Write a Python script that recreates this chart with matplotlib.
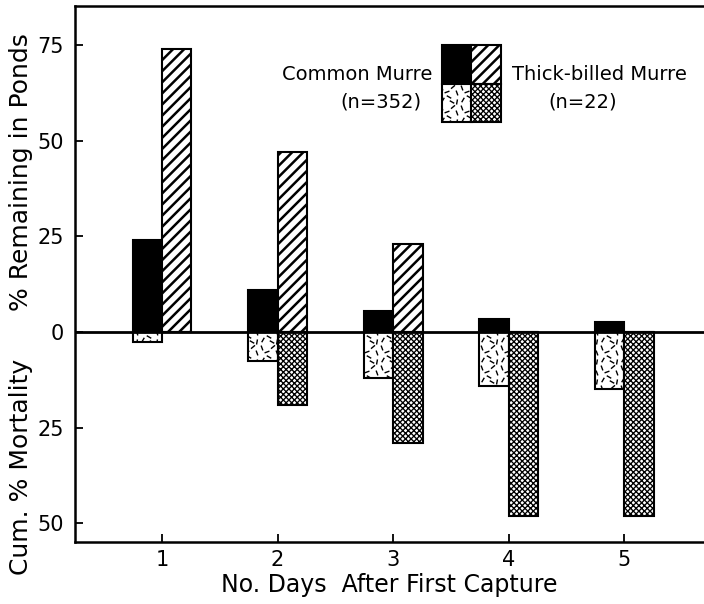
import numpy as np
import matplotlib
matplotlib.use('Agg')
import matplotlib.pyplot as plt
from matplotlib.collections import LineCollection
from matplotlib.patches import Rectangle
from matplotlib.transforms import IdentityTransform

# values (percent)
days = [1, 2, 3, 4, 5]
common_remaining = [24, 11, 5.5, 3.5, 2.5]
thick_remaining = [74, 47, 23, 0, 0]
common_mortality = [2.5, 7.5, 12, 14, 15]
thick_mortality = [0, 19, 29, 48, 48]
ytick_values = [-50, -25, 0, 25, 50, 75]
ytick_labels = ['50', '25', '0', '25', '50', '75']

plt.rcParams['font.family'] = 'DejaVu Sans'
plt.rcParams['hatch.linewidth'] = 1.8

W = 0.255

fig = plt.figure(figsize=(7.04, 6.04), dpi=100)
ax = fig.add_axes([75 / 704, 1 - 542 / 604, 1 - 75 / 704, (542 - 6) / 604])

# small scattered dashes, used as the texture for common murre mortality
tile = [(3, 4, 60), (12, 2, -30), (17, 11, 110), (7, 12, 20),
        (2, 16, -70), (13, 17, 40), (9, 7, 150), (17, 2, 80)]


def dash_fill(patch, z=3):
    segs = []
    for x0 in range(0, 712, 20):
        for y0 in range(0, 612, 20):
            for dx, dy, ang in tile:
                a = np.radians(ang)
                cx, cy = x0 + dx, y0 + dy
                ux, uy = 2.6 * np.cos(a), 2.6 * np.sin(a)
                segs.append([(cx - ux, cy - uy), (cx + ux, cy + uy)])
    lc = LineCollection(segs, colors='black', linewidths=1.0,
                        transform=IdentityTransform(), zorder=z)
    lc.set_clip_path(patch)
    fig.add_artist(lc)


# remaining in ponds (up)
ax.bar(days, common_remaining, width=-W, align='edge', color='black',
       edgecolor='black', linewidth=1.5, zorder=2)
ax.bar(days, thick_remaining, width=W, align='edge', color='white',
       edgecolor='black', linewidth=1.5, hatch='///', zorder=2)

# cumulative mortality (down)
cm_bars = ax.bar(days, -np.array(common_mortality), width=-W, align='edge',
                 color='white', edgecolor='black', linewidth=1.5, zorder=2)
tb_bars = ax.bar(days, -np.array(thick_mortality), width=W, align='edge',
                 color='white', edgecolor='black', linewidth=1.5,
                 hatch='xxxxxx', zorder=2)
for b in tb_bars:
    if hasattr(b, 'set_hatch_linewidth'):
        b.set_hatch_linewidth(0.95)
for b in cm_bars:
    dash_fill(b)

ax.axhline(0, color='black', linewidth=2, zorder=4)

ax.set_xlim(0.247, 5.69)
ax.set_ylim(-54.9, 85.2)
ax.set_xticks(days)
ax.set_xticklabels(['1', '2', '3', '4', '5'])
ax.set_yticks(ytick_values)
ax.set_yticklabels(ytick_labels)
ax.tick_params(direction='in', length=6, width=1.3, labelsize=15, pad=8)
ax.tick_params(axis='x', pad=6)
for s in ['left', 'bottom', 'top']:
    ax.spines[s].set_linewidth(1.8)
ax.spines['right'].set_visible(False)

ax.set_xlabel('No. Days  After First Capture', fontsize=17, labelpad=2)
fig.text(21 / 704, 1 - 172 / 604, '% Remaining in Ponds', rotation=90,
         fontsize=18, ha='center', va='center')
fig.text(21 / 704, 1 - 467 / 604, 'Cum. % Mortality', rotation=90,
         fontsize=18, ha='center', va='center')

# legend key drawn as a 2x2 block
kx, kw = 442 / 704, 29.5 / 704
ky_top, ky_mid, ky_bot = 1 - 45 / 604, 1 - 84 / 604, 1 - 122 / 604
cells = [
    (kx, ky_mid, ky_top - ky_mid, dict(facecolor='black')),
    (kx + kw, ky_mid, ky_top - ky_mid, dict(facecolor='white', hatch='///')),
    (kx, ky_bot, ky_mid - ky_bot, dict(facecolor='white')),
    (kx + kw, ky_bot, ky_mid - ky_bot, dict(facecolor='white', hatch='xxxxxx')),
]
for i, (x0, y0, h, kw_) in enumerate(cells):
    r = Rectangle((x0, y0), kw, h, transform=fig.transFigure,
                  edgecolor='black', linewidth=1.5, zorder=5, **kw_)
    fig.add_artist(r)
    if i == 3 and hasattr(r, 'set_hatch_linewidth'):
        r.set_hatch_linewidth(0.95)
    if i == 2:
        dash_fill(r, z=6)

fig.text(432 / 704, 1 - 74 / 604, 'Common Murre', fontsize=14,
         ha='right', va='center')
fig.text(381 / 704, 1 - 102 / 604, '(n=352)', fontsize=14,
         ha='center', va='center')
fig.text(512 / 704, 1 - 74 / 604, 'Thick-billed Murre', fontsize=14,
         ha='left', va='center')
fig.text(583 / 704, 1 - 102 / 604, '(n=22)', fontsize=14,
         ha='center', va='center')

fig.savefig('out.png', dpi=100)
